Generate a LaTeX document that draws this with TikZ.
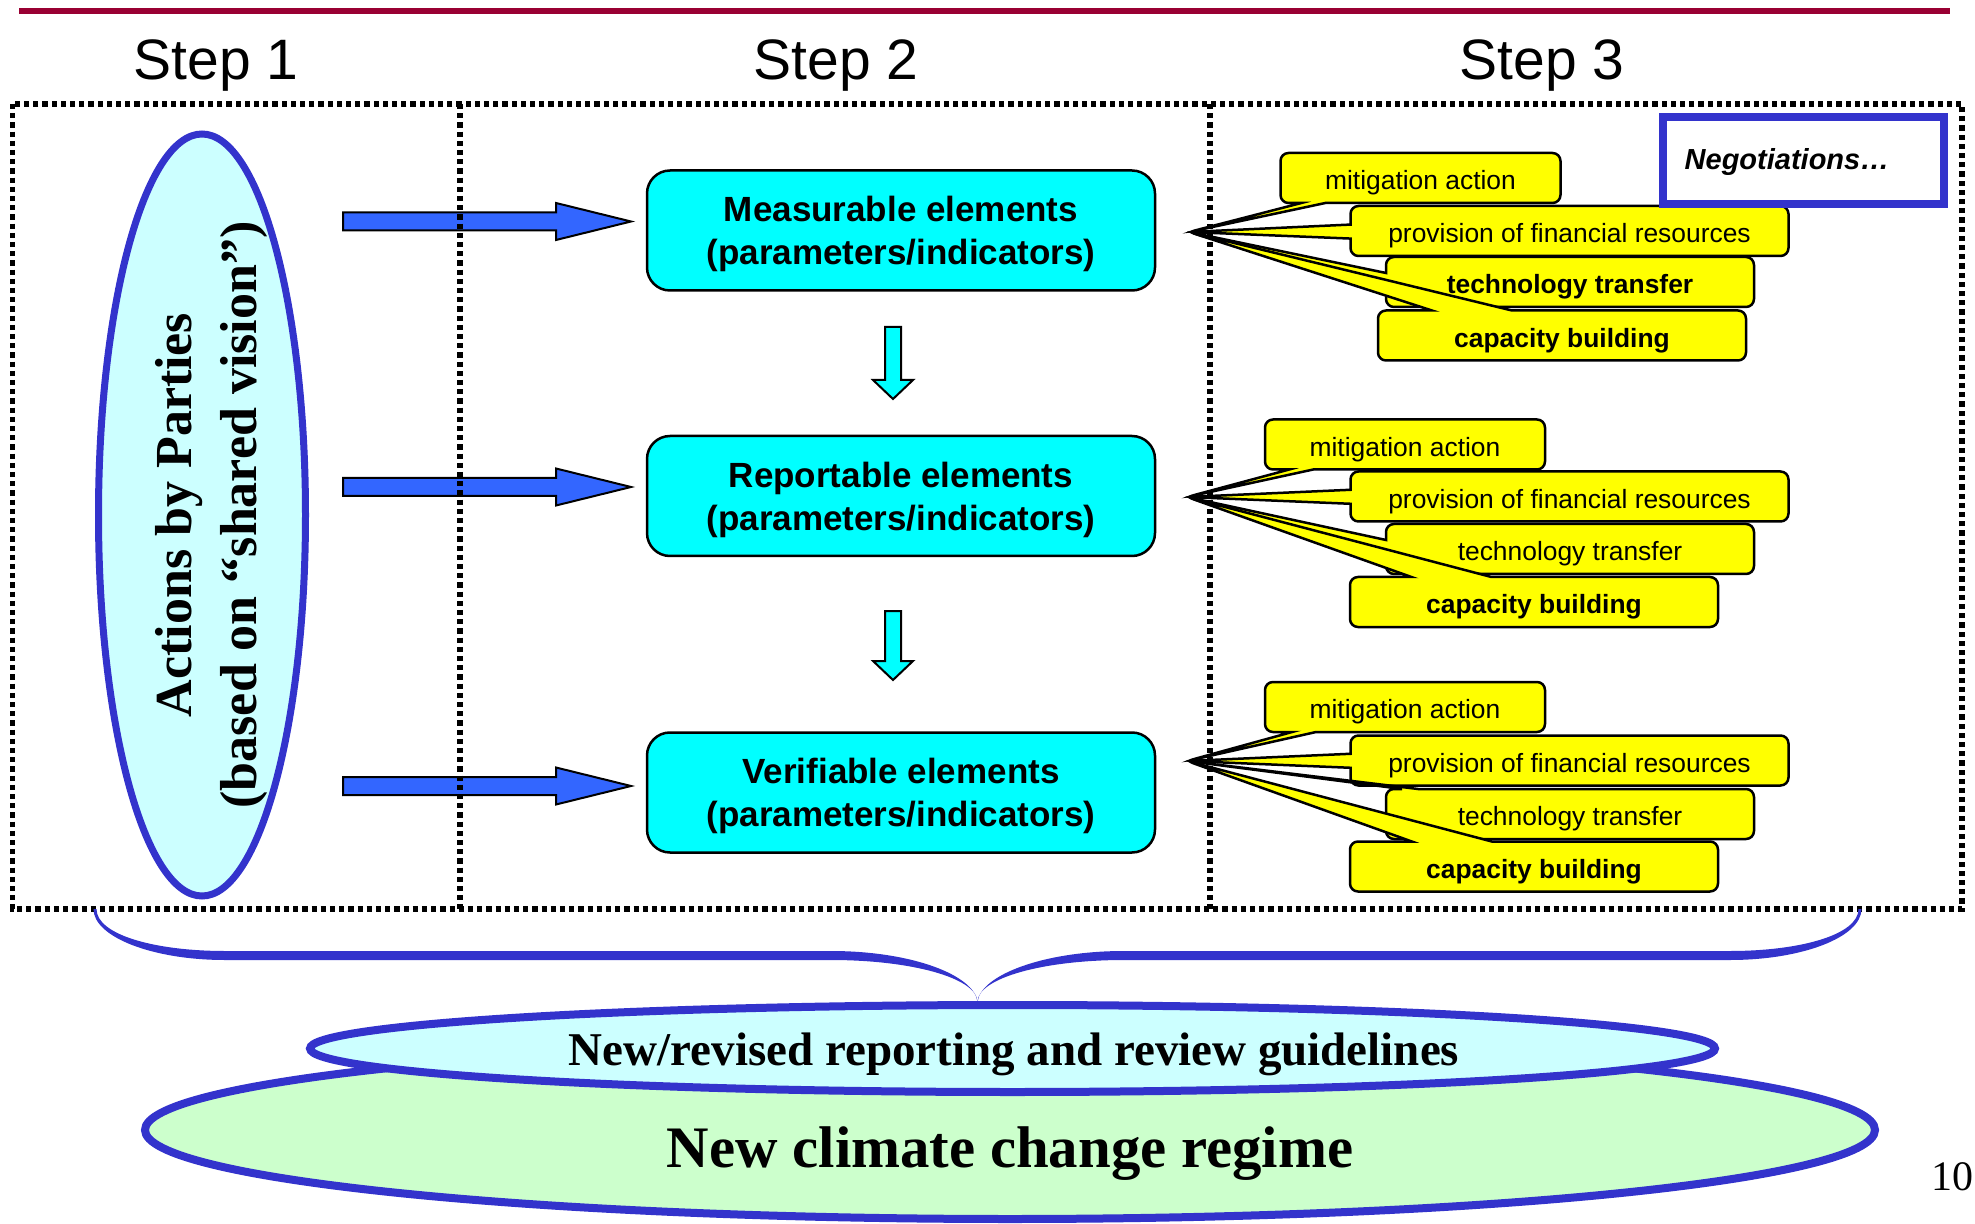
\documentclass[tikz,border=0pt]{standalone}
\usepackage{fontspec}
\setmainfont{Liberation Sans}
\newfontfamily\tms{Liberation Serif}
\usetikzlibrary{shapes.callouts,shapes.geometric}
\definecolor{crim}{HTML}{990033}
\definecolor{bblue}{HTML}{3333CC}
\definecolor{ablue}{HTML}{3366FF}
\definecolor{aqua}{HTML}{00FFFF}
\definecolor{lcyan}{HTML}{CCFFFF}
\definecolor{lgreen}{HTML}{CCFFCC}
\definecolor{yel}{HTML}{FFFF00}
\begin{document}
\begin{tikzpicture}[x=0.5pt,y=-0.5pt,
  steplbl/.style={font=\fontsize{28.5}{34}\selectfont, anchor=base, inner sep=0},
  elembox/.style={draw=black, fill=aqua, line width=1.25pt, rounded corners=11.5pt, minimum width=254pt, minimum height=60pt, inner sep=0},
  elemtxt/.style={inner sep=0, align=center, font=\bfseries\fontsize{17.5}{21.5}\selectfont},
  ycall/.style={rectangle callout, draw=black, fill=yel, line width=1.25pt, rounded corners=4pt, inner sep=0, minimum height=25pt, text height=12pt, text depth=0.2pt, font=\fontsize{13.2}{15}\selectfont},
  boldcall/.style={font=\bfseries\fontsize{13.2}{15}\selectfont},
  mw/.style={minimum width=140pt, callout pointer width=12pt},
  pw/.style={minimum width=219pt, callout pointer width=7pt},
  tw/.style={minimum width=184pt, callout pointer width=8pt},
  cw/.style={minimum width=184pt, callout pointer width=40pt},
  blockr/.style={fill=ablue, draw=black, line width=1pt, line join=miter},
  blockd/.style={fill=aqua, draw=black, line width=1pt, line join=miter},
  framesty/.style={draw=black, line width=2.6pt, dash pattern=on 2.6pt off 2pt},
  blueell/.style={ellipse, draw=bblue, line width=4pt, inner sep=0},
]
\useasboundingbox (0,0) rectangle (1975,1224);

% top rule
\draw[crim, line width=2.8pt] (19,11) -- (1950,11);

% step labels
\node[steplbl] (s1) at (216,80) {Step 1};
\node[steplbl] (s2) at (836,80) {Step 2};
\node[steplbl] (s3) at (1542,80) {Step 3};

% left ellipse
\node[blueell, line width=3.5pt, fill=lcyan, minimum width=103.5pt, minimum height=381pt] (actions) at (202,515) {};
\node[rotate=90, align=center, inner sep=0, font=\tms\bfseries\fontsize{26}{32.5}\selectfont] (actionstxt) at (211,515) {Actions by Parties\\(based on “shared vision”)};

% blue block arrows
\foreach \yy in {221.5,487,786}{
  \draw[blockr] (343,{\yy-9}) -- (556,{\yy-9}) -- (556,{\yy-18.5}) -- (631,\yy) -- (556,{\yy+18.5}) -- (556,{\yy+9}) -- (343,{\yy+9}) -- cycle;
}

% element boxes
\node[elembox] (meas) at (901,230.5) {};
\node[elembox] (rep) at (901,496) {};
\node[elembox] (ver) at (901,792.5) {};
\node[elemtxt] (meastxt) at ([yshift=-1.8pt]meas.center) {Measurable elements\\(parameters/indicators)};
\node[elemtxt] (reptxt) at ([yshift=-1.8pt]rep.center) {Reportable elements\\(parameters/indicators)};
\node[elemtxt] (vertxt) at ([yshift=-1.8pt]ver.center) {Verifiable elements\\(parameters/indicators)};

% down arrows
\foreach \ya/\yb/\yc in {327/380/399, 611/661/680}{
  \draw[blockd] (885,\ya) -- (901,\ya) -- (901,\yb) -- (913,\yb) -- (893,\yc) -- (873,\yb) -- (885,\yb) -- cycle;
}

% callout tips
\coordinate (tipA) at (1189,232);
\coordinate (tipB) at (1187,497);
\coordinate (tipC) at (1187,761);

% group 1
\node[ycall, mw, callout absolute pointer={(tipA)}] (m1) at (1420.5,178) {mitigation action};
\node[ycall, pw, callout absolute pointer={(tipA)}] (p1) at (1569.5,231) {provision of financial resources};
\node[ycall, tw, boldcall, callout absolute pointer={(tipA)}] (t1) at (1570,282) {technology transfer};
\node[ycall, cw, boldcall, callout absolute pointer={(tipA)}] (c1) at (1562,335.5) {capacity building};

% group 2
\node[ycall, mw, callout absolute pointer={(tipB)}] (m2) at (1405,444.5) {mitigation action};
\node[ycall, pw, callout absolute pointer={(tipB)}] (p2) at (1569.5,496.5) {provision of financial resources};
\node[ycall, tw, callout absolute pointer={(tipB)}] (t2) at (1570,549) {technology transfer};
\node[ycall, cw, boldcall, callout absolute pointer={(tipB)}] (c2) at (1534,602) {capacity building};

% group 3
\node[ycall, mw, callout absolute pointer={(tipC)}] (m3) at (1405,707) {mitigation action};
\node[ycall, pw, callout absolute pointer={(tipC)}] (p3) at (1569.5,760.5) {provision of financial resources};
\node[ycall, tw, callout absolute pointer={(tipC)}] (t3) at (1570,814) {technology transfer};
\node[ycall, cw, boldcall, callout absolute pointer={(tipC)}] (c3) at (1534,866.5) {capacity building};

% negotiations
\node[draw=bblue, line width=4pt, fill=white, minimum width=140.5pt, minimum height=43.5pt, inner sep=0] (neg) at (1803.5,160.5) {};
\node[inner sep=0, font=\bfseries\itshape\fontsize{14.5}{17}\selectfont] (negtxt) at (1787,162) {Negotiations…};

% dotted frame
\draw[framesty] (12.5,104) rectangle (1962,909);
\draw[framesty] (460,104) -- (460,909);
\draw[framesty] (1210,104) -- (1210,909);

% brace
\foreach \s in {1,-1}{
  \fill[bblue] ({977.5-\s*884},909) .. controls ({977.5-\s*884},937) and ({977.5-\s*825},960) .. ({977.5-\s*752.5},960)
    -- ({977.5-\s*146.5},960) .. controls ({977.5-\s*66},960) and ({977.5},978) .. (977.5,1002)
    .. controls ({977.5-\s*3},975) and ({977.5-\s*66},951) .. ({977.5-\s*146.5},951)
    -- ({977.5-\s*752.5},951) .. controls ({977.5-\s*822},951) and ({977.5-\s*881},935) .. ({977.5-\s*881},909) -- cycle;
}

% bottom ellipses
\node[blueell, fill=lgreen, minimum width=865pt, minimum height=89pt] (regime) at (1010,1130) {};
\node[blueell, fill=lcyan, minimum width=702.5pt, minimum height=43.5pt] (guide) at (1012.5,1048.5) {};
\node[anchor=base, inner sep=0, font=\tms\bfseries\fontsize{23.5}{28}\selectfont] (guidetxt) at (1014,1065) {New/revised reporting and review guidelines};
\node[anchor=base, inner sep=0, font=\tms\bfseries\fontsize{29.4}{35}\selectfont] (regimetxt) at (1010,1167) {New climate change regime};

% page number
\node[anchor=base west, inner sep=0, font=\tms\fontsize{21}{25}\selectfont] (pagenum) at (1931,1190) {10};
\end{tikzpicture}
\end{document}
